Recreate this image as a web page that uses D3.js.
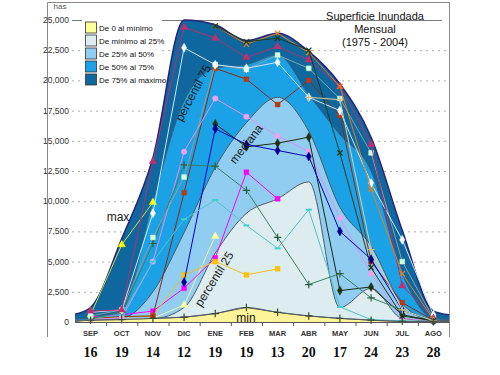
<!DOCTYPE html>
<html>
<head>
<meta charset="utf-8">
<script src="https://cdn.jsdelivr.net/npm/d3@7"></script>
<style>
  body { margin: 0; background: #fff; }
  svg { display: block; font-family: Arial, "Liberation Sans", sans-serif; }
</style>
</head>
<body>
<div id="superficieMensual"></div>
<script>
// meses del ciclo hidrologico y numero de anios con dato
const meses = ["SEP", "OCT", "NOV", "DIC", "ENE", "FEB", "MAR", "ABR", "MAY", "JUN", "JUL", "AGO"];
const numeros = [16, 19, 14, 12, 19, 19, 13, 20, 17, 24, 23, 28];
const ticksY = [0, 2500, 5000, 7500, 10000, 12500, 15000, 17500, 20000, 22500, 25000];

// limites de las bandas (has)
const valMax = [1200, 6900, 13600, 25000, 24600, 23300, 23900, 22400, 19700, 15300, 7600, 900];
const valP75 = [300, 1000, 10000, 18300, 21000, 21300, 22100, 18800, 15500, 12500, 4000, 300];
const valMediana = [150, 300, 2500, 7400, 12800, 16500, 18600, 15800, 9500, 6300, 1500, 150];
const valP25 = [100, 150, 250, 1200, 5700, 9000, 10200, 11600, 1200, 2800, 300, 100];
const valMin = [150, 200, 300, 400, 700, 1200, 800, 500, 300, 150, 50, 50];
// valores en los bordes del grafico (max, p75, mediana, p25, min)
const bordeInicio = [650, 250, 150, 80, 40];
const bordeFin = [600, 200, 120, 80, 40];

const leyenda = ["De 0 al mínimo", "De mínimo al 25%", "De 25% al 50%", "De 50% al 75%", "De 75% al máximo"];

// algunos anios individuales
const lineaAmarilla = [600, 6400, 9900, null, null, null, null, null, null, null, null, null];
const lineaCrema = [null, 200, 300, 1400, 7100, null, null, null, null, null, null, null];
const lineaMagenta = [400, 600, 900, 2800, 5300, 12400, 10200, null, null, null, null, null];
const lineaOro = [300, 400, 500, 3900, 5000, 3900, 4400, null, null, null, null, null];
const lineaMarron = [300, 450, 500, 10700, 21000, 20100, 18000, 20000, 17100, 5000, 1600, 150];
const lineaLila = [200, 350, 5000, 14100, 18500, 17000, 15400, 14100, 8600, 4000, 300, 100];
const lineaNegra = [null, null, null, null, 16400, 14500, 14800, 15300, 2600, 2900, 600, 100];
const lineaAzul = [null, null, null, 3300, 16000, 14700, 14200, 13700, 7500, 5200, 1000, 100];
const lineaTurquesa = [300, 600, 5000, 8500, 10100, 8000, 6100, 9300, 1250, 200, 100, 50];
const lineaVerde = [300, 800, 6500, 13000, 12900, 10900, 7000, 3100, 4000, 2000, 1000, 100];
const lineaVerdePalido = [500, 1000, 7000, 12000, 21300, 20900, 22100, 21000, 18500, 14000, 5000, 300];
const lineaBlanca = [800, 1000, 9000, 22700, 21300, 21000, 21500, 18600, 17500, 11500, 6800, 600];
const lineaGranate = [900, 1000, 13300, 24400, 23500, 21900, 22800, 21700, 19500, 14700, 3000, 300];
const lineaNaranja = [null, null, null, null, 24500, 23000, 23900, 22300, 19500, 11000, 4000, 200];
const lineaOscura = [null, null, null, null, 24500, 23200, 23500, 22500, 14000, 4500, 500, 100];
const lineaBeige = [null, null, null, null, null, null, null, 18600, 18400, 6000, 1000, 100];

document.addEventListener("DOMContentLoaded", function () {
    const width = 500, height = 375;
    const plot = {left: 75, right: 449, top: 20, bottom: 322};

    const svg = d3.select("#superficieMensual")
        .append("svg")
        .attr("width", width)
        .attr("height", height);

    const xBand = d3.scaleBand().domain(meses).range([plot.left, plot.right]);
    const bw = xBand.bandwidth();
    const xMes = m => xBand(m) + bw / 2;
    const yScale = d3.scaleLinear().domain([0, 25000]).range([plot.bottom, plot.top]);

    //marco exterior
    svg.append("path")
        .attr("d", "M47.5,337 V2.5 H449.5 V337")
        .attr("fill", "none")
        .attr("stroke", "#8a8a8a");

    //grilla
    svg.append("g").selectAll("line")
        .data(ticksY.filter(t => t > 0))
        .enter()
        .append("line")
        .attr("x1", 72)
        .attr("x2", d => d === 25000 ? 442 : plot.right)
        .attr("y1", d => yScale(d) + 0.5)
        .attr("y2", d => yScale(d) + 0.5)
        .attr("stroke", d => d === 25000 ? "#777" : "#aaa")
        .attr("stroke-dasharray", d => d === 25000 ? null : "2,4");

    svg.append("g").selectAll("text")
        .data(ticksY)
        .enter()
        .append("text")
        .attr("x", 69)
        .attr("y", d => yScale(d))
        .attr("dy", "0.35em")
        .attr("text-anchor", "end")
        .attr("font-size", "8.5px")
        .attr("fill", "#333")
        .text(d3.format(","));

    svg.append("text")
        .attr("x", 60).attr("y", 9)
        .attr("text-anchor", "middle")
        .attr("font-size", "8px")
        .attr("fill", "#555")
        .text("has");

    //bandas de percentiles
    const bandas = [valMax, valP75, valMediana, valP25, valMin];
    const colores = ["#0f67a0", "#1ba2e6", "#90cdf1", "#dcecef", "#fdf49a"];
    const trazos = ["#25257a", "#3b5f80", "#4a5a66", "#4a5a66", "#5a6066"];

    const puntos = (vals, k) => [{x: plot.left, v: bordeInicio[k]}]
        .concat(vals.map((v, i) => ({x: xMes(meses[i]), v: v})))
        .concat([{x: plot.right, v: bordeFin[k]}]);

    const area = d3.area()
        .x(d => d.x)
        .y0(yScale(0))
        .y1(d => yScale(d.v))
        .curve(d3.curveMonotoneX);
    const borde = d3.line()
        .x(d => d.x)
        .y(d => yScale(d.v))
        .curve(d3.curveMonotoneX);

    bandas.forEach(function (vals, k) {
        const pts = puntos(vals, k);
        svg.append("path")
            .attr("d", area(pts))
            .attr("fill", colores[k]);
        svg.append("path")
            .attr("d", borde(pts))
            .attr("fill", "none")
            .attr("stroke", trazos[k])
            .attr("stroke-width", k === 0 ? 1.5 : 1);
    });

    //lineas de anios
    const sTimes = d3.symbolTimes || d3.symbolCross;
    const sPlus = d3.symbolPlus || d3.symbolCross;
    const series = [
        {vals: lineaAmarilla, linea: "#c8e040", marca: "#ffff00", tipo: d3.symbolTriangle},
        {vals: lineaCrema, linea: "#f4f4a8", marca: "#ffffa0", tipo: d3.symbolTriangle},
        {vals: lineaMagenta, linea: "#ff00ff", marca: "#ff00ff", tipo: d3.symbolSquare},
        {vals: lineaOro, linea: "#f0c020", marca: "#ffc000", tipo: d3.symbolSquare},
        {vals: lineaMarron, linea: "#8b2a10", marca: "#b83a10", tipo: d3.symbolSquare},
        {vals: lineaLila, linea: "#e090f0", marca: "#f0a0f0", tipo: d3.symbolCircle},
        {vals: lineaNegra, linea: "#1a2a10", marca: "#203010", tipo: d3.symbolDiamond},
        {vals: lineaAzul, linea: "#0000c0", marca: "#000090", tipo: d3.symbolDiamond},
        {vals: lineaTurquesa, linea: "#50c4c8", marca: "#40d0d0", tipo: "raya"},
        {vals: lineaVerde, linea: "#3a8060", marca: "#2a6040", tipo: sPlus},
        {vals: lineaVerdePalido, linea: "#8aa0a0", marca: "#d0ffd8", tipo: d3.symbolSquare},
        {vals: lineaBlanca, linea: "#cfe6f4", marca: "#f4fbff", tipo: d3.symbolDiamond},
        {vals: lineaGranate, linea: "#b03070", marca: "#c03070", tipo: d3.symbolTriangle},
        {vals: lineaNaranja, linea: "#e08020", marca: "#e08020", tipo: sTimes},
        {vals: lineaOscura, linea: "#1c3a1c", marca: "#1c3a1c", tipo: sTimes},
        {vals: lineaBeige, linea: "#d8d0a0", marca: "#c8c090", tipo: sPlus},
        {vals: valMin, linea: "#505a60", marca: "#3a4a30", tipo: sPlus}
    ];

    const lineaAnio = d3.line()
        .defined(d => d.v !== null)
        .x(d => xMes(d.m))
        .y(d => yScale(d.v));

    series.forEach(function (s) {
        const pts = s.vals.map((v, i) => ({m: meses[i], v: v}));
        svg.append("path")
            .attr("d", lineaAnio(pts))
            .attr("fill", "none")
            .attr("stroke", s.linea)
            .attr("stroke-width", 1);
        const conDato = pts.filter(d => d.v !== null);
        if (s.tipo === "raya") {
            svg.append("g").selectAll("rect")
                .data(conDato)
                .enter()
                .append("rect")
                .attr("x", d => xMes(d.m) - 3)
                .attr("y", d => yScale(d.v) - 1)
                .attr("width", 6)
                .attr("height", 2)
                .attr("fill", s.marca);
        } else {
            const esTrazo = s.tipo === sTimes || s.tipo === sPlus;
            svg.append("g").selectAll("path")
                .data(conDato)
                .enter()
                .append("path")
                .attr("transform", d => "translate(" + xMes(d.m) + "," + yScale(d.v) + ")")
                .attr("d", d3.symbol().type(s.tipo).size(esTrazo ? 20 : 24))
                .attr("fill", esTrazo ? "none" : s.marca)
                .attr("stroke", s.marca)
                .attr("stroke-width", esTrazo ? 1.2 : 0.4);
        }
    });

    //etiquetas de las curvas
    const etiquetas = [
        {t: "max", x: 118, y: 221, r: 0},
        {t: "min", x: 246, y: 322, r: 0},
        {t: "percentil 75", x: 193, y: 93, r: -62},
        {t: "mediana", x: 246, y: 144, r: -52},
        {t: "percentil 25", x: 214, y: 279, r: -58}
    ];
    svg.append("g").selectAll("text")
        .data(etiquetas)
        .enter()
        .append("text")
        .attr("transform", d => "translate(" + d.x + "," + d.y + ") rotate(" + d.r + ")")
        .attr("text-anchor", "middle")
        .attr("dy", d => d.r === 0 ? 0 : "0.35em")
        .attr("font-size", "12px")
        .attr("fill", "#1a1a1a")
        .text(d => d.t);

    //eje x
    svg.append("line")
        .attr("x1", plot.left).attr("x2", plot.right)
        .attr("y1", plot.bottom + 0.5).attr("y2", plot.bottom + 0.5)
        .attr("stroke", "#555");
    svg.append("g").selectAll("line")
        .data(meses.slice(1))
        .enter()
        .append("line")
        .attr("x1", d => xBand(d) + 0.5).attr("x2", d => xBand(d) + 0.5)
        .attr("y1", plot.bottom).attr("y2", plot.bottom + 4)
        .attr("stroke", "#555");

    svg.append("g").selectAll("text")
        .data(meses)
        .enter()
        .append("text")
        .attr("x", d => xMes(d))
        .attr("y", 336)
        .attr("text-anchor", "middle")
        .attr("font-size", "7.5px")
        .attr("font-weight", "bold")
        .attr("fill", "#333")
        .text(d => d);

    svg.append("g").selectAll("text")
        .data(numeros)
        .enter()
        .append("text")
        .attr("x", (d, i) => xMes(meses[i]))
        .attr("y", 357)
        .attr("text-anchor", "middle")
        .attr("font-family", "'Liberation Serif', 'Times New Roman', serif")
        .attr("font-size", "14px")
        .attr("font-weight", "bold")
        .attr("fill", "#111")
        .text(d => d);

    //leyenda
    const ley = svg.append("g");
    ley.append("rect")
        .attr("x", 82).attr("y", 20)
        .attr("width", 80).attr("height", 67)
        .attr("fill", "#fff");
    const filas = ley.selectAll("g")
        .data(leyenda)
        .enter()
        .append("g")
        .attr("transform", (d, i) => "translate(85," + (27.5 + i * 13) + ")");
    filas.append("rect")
        .attr("x", 0.5).attr("y", -5.5)
        .attr("width", 11).attr("height", 11)
        .attr("fill", (d, i) => i === 0 ? "#ffff99" : colores[4 - i])
        .attr("stroke", "#333")
        .attr("stroke-width", 0.8);
    filas.append("text")
        .attr("x", 14).attr("y", 3)
        .attr("font-size", "8px")
        .attr("fill", "#111")
        .text(d => d);

    //titulo
    svg.append("g").selectAll("text")
        .data(["Superficie Inundada", "Mensual", "(1975 - 2004)"])
        .enter()
        .append("text")
        .attr("x", 375)
        .attr("y", (d, i) => 20 + i * 13)
        .attr("text-anchor", "middle")
        .attr("font-size", "11px")
        .attr("fill", "#111")
        .text(d => d);
});
</script>
</body>
</html>
